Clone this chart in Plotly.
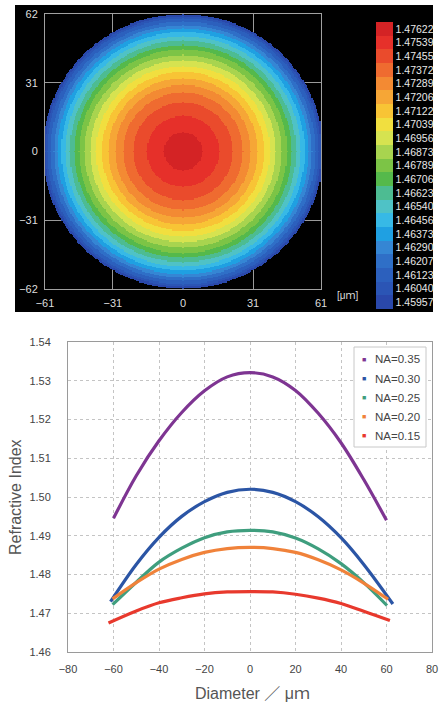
import numpy as np
import plotly.graph_objects as go

W, H = 440, 702

# ---------------- data: top map ----------------
level_labels = ["1.47622", "1.47539", "1.47455", "1.47372", "1.47289", "1.47206",
                "1.47122", "1.47039", "1.46956", "1.46873", "1.46789", "1.46706",
                "1.46623", "1.46540", "1.46456", "1.46373", "1.46290", "1.46207",
                "1.46123", "1.46040", "1.45957"]
level_colors = ["#d42325", "#e6302a", "#ea4b2c", "#ef6b30", "#f38a33", "#f6a636",
                "#f8c435", "#f1df3f", "#d6e350", "#a8d44f", "#7cc446", "#55b94b",
                "#4dbc92", "#4fc2c6", "#37b9e6", "#1fa0e2", "#3586d4", "#2f6fc7",
                "#2c60bd", "#2b55b5", "#2a48ab"]
# outer radius (um) of each band, centre band first
band_outer_radius = [8.5, 16.0, 22.0, 26.5, 30.0, 33.0, 35.8, 38.5, 41.0, 43.5,
                     46.0, 48.0, 50.0, 52.0, 53.8, 55.5, 57.0, 58.5, 60.0, 61.0, 62.0]
map_x_ticks = [-61, -31, 0, 31, 61]
map_y_ticks = [-62, -31, 0, 31, 62]

# ---------------- data: bottom profiles ----------------
series_names = ["NA=0.35", "NA=0.30", "NA=0.25", "NA=0.20", "NA=0.15"]
series_colors = ["#7e3592", "#2b55a5", "#3f9e7e", "#f0823a", "#e8392d"]
x_na035 = [-60, -50, -40, -30, -20, -10, 0, 10, 20, 30, 40, 50, 60]
y_na035 = [1.4945, 1.5055, 1.5145, 1.5218, 1.5274, 1.5310, 1.5321, 1.5310, 1.5275, 1.5216, 1.5140, 1.5045, 1.4940]
x_na030 = [-61.3, -50, -40, -30, -20, -10, 0, 10, 20, 30, 40, 50, 62.8]
y_na030 = [1.4730, 1.4826, 1.4896, 1.4950, 1.4988, 1.5012, 1.5020, 1.5012, 1.4988, 1.4949, 1.4895, 1.4826, 1.4724]
x_na025 = [-60.4, -50, -40, -30, -20, -10, 0, 10, 20, 30, 40, 50, 60.2]
y_na025 = [1.4722, 1.4780, 1.4832, 1.4868, 1.4895, 1.4910, 1.4914, 1.4910, 1.4894, 1.4866, 1.4828, 1.4779, 1.4720]
x_na020 = [-60.4, -50, -40, -30, -20, -10, 0, 10, 20, 30, 40, 50, 60.7]
y_na020 = [1.4737, 1.4779, 1.4814, 1.4839, 1.4857, 1.4867, 1.4870, 1.4867, 1.4857, 1.4838, 1.4812, 1.4778, 1.4736]
x_na015 = [-62.2, -50, -40, -30, -20, -10, 0, 10, 20, 30, 40, 50, 61.5]
y_na015 = [1.4675, 1.4706, 1.4727, 1.4740, 1.4750, 1.4755, 1.4756, 1.4755, 1.4749, 1.4739, 1.4725, 1.4705, 1.4681]
series_x = [x_na035, x_na030, x_na025, x_na020, x_na015]
series_y = [y_na035, y_na030, y_na025, y_na020, y_na015]


def px(x):
    return x / W


def py(y):
    return 1 - y / H


# ---------------- build the map grid ----------------
levels = [float(s) for s in level_labels]
grid = np.arange(-62.5, 62.51, 0.5)
X, Y = np.meshgrid(grid, grid)
R = np.sqrt(X ** 2 + Y ** 2)
idx = np.searchsorted(np.array(band_outer_radius), R)
lev_arr = np.array(levels + [np.nan])
Z = lev_arr[np.minimum(idx, len(levels))]

n = len(levels)
step = (levels[0] - levels[-1]) / (n - 1)
zmin = levels[-1] - step / 2
zmax = levels[0] + step / 2
cols_low_to_high = level_colors[::-1]
colorscale = []
for i, c in enumerate(cols_low_to_high):
    colorscale.append([i / n, c])
    colorscale.append([(i + 1) / n, c])

NARROW = "Liberation Sans Narrow, Arial Narrow, Liberation Sans, Arial, sans-serif"
SANS = "Liberation Sans, Arial, sans-serif"

fig = go.Figure()
fig.add_trace(go.Heatmap(
    x=grid, y=grid, z=Z, xaxis="x", yaxis="y",
    colorscale=colorscale, zmin=zmin, zmax=zmax, hoverinfo="skip",
    colorbar=dict(
        x=px(376), xanchor="left", xpad=0, ypad=0,
        y=py(165.7), yanchor="middle",
        len=287, lenmode="pixels", thickness=17, thicknessmode="pixels",
        outlinewidth=0, ticks="", tickmode="array", tickvals=levels, ticktext=level_labels,
        tickfont=dict(family=NARROW, size=10.5, color="#e8e8e8"),
    ),
))

for name, color, xs, ys in zip(series_names, series_colors, series_x, series_y):
    fig.add_trace(go.Scatter(
        x=xs, y=ys, mode="lines", name=name, xaxis="x2", yaxis="y2",
        line=dict(color=color, width=3.2, shape="spline"), showlegend=False,
    ))

shapes = [
    dict(type="rect", xref="paper", yref="paper", x0=px(15), x1=px(433), y0=py(312), y1=py(5),
         fillcolor="black", line=dict(width=0), layer="below"),
    # legend box
    dict(type="rect", xref="paper", yref="paper", x0=px(354), x1=px(426), y0=py(447), y1=py(347),
         fillcolor="white", line=dict(color="#c8c8c8", width=1), layer="above"),
]

annotations = [
    dict(text="[μｍ]", x=px(348), y=py(295), xref="paper", yref="paper", showarrow=False,
         xanchor="center", yanchor="middle",
         font=dict(family=NARROW + ", Noto Sans CJK JP", size=10, color="#dddddd")),
    dict(text="Diameter ／ μｍ", x=px(252), y=py(693), xref="paper", yref="paper", showarrow=False,
         xanchor="center", yanchor="middle",
         font=dict(family=SANS + ", Noto Sans CJK JP", size=16, color="#555555")),
    dict(text="Refractive Index", x=px(15), y=py(497), xref="paper", yref="paper", showarrow=False,
         xanchor="center", yanchor="middle",
         textangle=-90, font=dict(family=SANS, size=16, color="#555555")),
]
legend_y = [359.3, 378.5, 397.5, 416.5, 435.5]
for name, color, ly in zip(series_names, series_colors, legend_y):
    annotations.append(dict(text="■", x=px(364), y=py(ly), xref="paper", yref="paper",
                            showarrow=False, xanchor="center", yanchor="middle",
                            font=dict(family=SANS, size=7, color=color)))
    annotations.append(dict(text=name, x=px(372.5), y=py(ly), xref="paper", yref="paper",
                            showarrow=False, xanchor="left", yanchor="middle",
                            font=dict(family=SANS, size=11.5, color="#444444")))

fig.update_layout(
    width=W, height=H, autosize=False,
    margin=dict(l=0, r=0, t=0, b=0, autoexpand=False),
    paper_bgcolor="white", plot_bgcolor="rgba(0,0,0,0)",
    showlegend=False,
    shapes=shapes, annotations=annotations,
    xaxis=dict(domain=[px(45), px(321)], range=[-61, 61], tickvals=map_x_ticks,
               automargin=False,
               showgrid=True, gridcolor="#9a9a9a", gridwidth=1, zeroline=False,
               showline=True, mirror=True, linecolor="#a0a0a0", linewidth=1,
               ticks="", ticklabelstandoff=4,
               tickfont=dict(family=NARROW, size=11, color="#dddddd")),
    yaxis=dict(domain=[py(289), py(14)], range=[-62, 62], tickvals=map_y_ticks,
               automargin=False,
               showgrid=True, gridcolor="#9a9a9a", gridwidth=1, zeroline=False,
               showline=True, mirror=True, linecolor="#a0a0a0", linewidth=1,
               ticks="", ticklabelstandoff=4,
               tickfont=dict(family=NARROW, size=11, color="#dddddd")),
    xaxis2=dict(domain=[px(68), px(432)], range=[-80, 80], dtick=20, tick0=0,
                anchor="y2", automargin=False,
                showgrid=True, gridcolor="#c4c4c4", gridwidth=1, griddash="dot",
                zeroline=False, showline=True, mirror=True, linecolor="#9a9a9a", linewidth=1,
                ticks="", ticklabelstandoff=7,
                tickfont=dict(family=SANS, size=11, color="#444444")),
    yaxis2=dict(domain=[py(652), py(342)], range=[1.46, 1.54], dtick=0.01, tick0=1.46,
                anchor="x2", tickformat=".2f", automargin=False,
                showgrid=True, gridcolor="#c4c4c4", gridwidth=1, griddash="dot",
                zeroline=False, showline=True, mirror=True, linecolor="#9a9a9a", linewidth=1,
                ticks="", ticklabelstandoff=14,
                tickfont=dict(family=SANS, size=11, color="#444444")),
)

fig.write_html(
    "out.html",
    config={"displayModeBar": False, "staticPlot": True},
    post_script="document.body.style.margin='0px';document.body.style.padding='0px';"
                "document.body.style.overflow='hidden';",
)
